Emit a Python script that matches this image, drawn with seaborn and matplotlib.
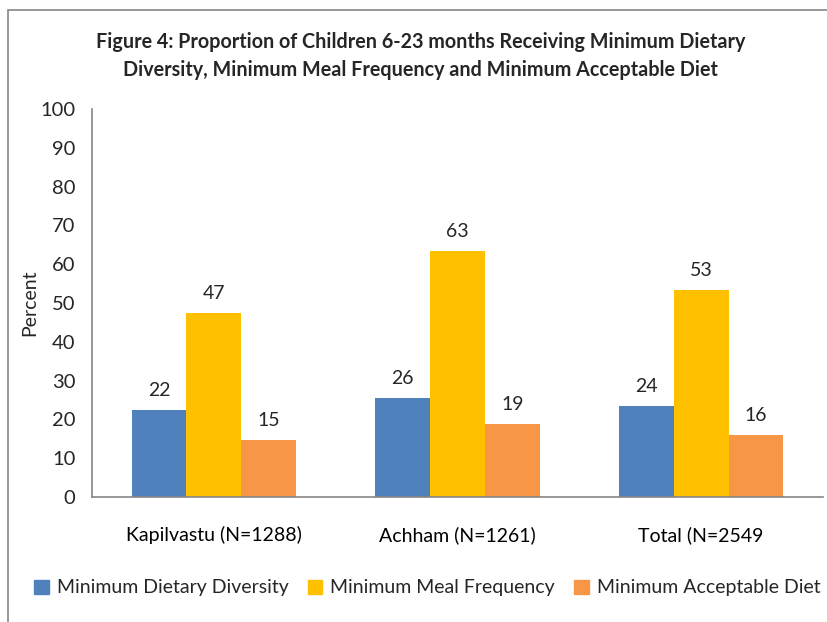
import matplotlib
matplotlib.use("Agg")
import matplotlib.pyplot as plt
import seaborn as sns
import pandas as pd
from matplotlib.patches import Rectangle

categories = ["Kapilvastu (N=1288)", "Achham (N=1261)", "Total (N=2549"]
series = ["Minimum Dietary Diversity", "Minimum Meal Frequency", "Minimum Acceptable Diet"]
mdd = [22.4, 25.5, 23.5]
mmf = [47.5, 63.4, 53.4]
mad = [14.7, 18.8, 16.0]
mdd_labels = ["22", "26", "24"]
mmf_labels = ["47", "63", "53"]
mad_labels = ["15", "19", "16"]
colors = ["#4F81BD", "#FFC000", "#F79646"]
yticks = list(range(0, 101, 10))

rows = []
for s, vals in zip(series, [mdd, mmf, mad]):
    for c, v in zip(categories, vals):
        rows.append({"District": c, "Indicator": s, "Percent": v})
df = pd.DataFrame(rows)

sns.set_theme(style="white")
plt.rcParams["font.family"] = ["Lato", "DejaVu Sans"]

fig = plt.figure(figsize=(8.28, 6.22), dpi=100)
ax = fig.add_axes([92/828, 1-497/622, (823-92)/828, (497-109)/622])

sns.barplot(data=df, x="District", y="Percent", hue="Indicator", order=categories,
            hue_order=series, palette=colors, width=0.675, gap=0, saturation=1,
            edgecolor="none", linewidth=0, ax=ax)

ax.set_xlim(-0.5, 2.5)
ax.set_ylim(0, 100)
ax.set_yticks(yticks)
ax.set_yticklabels([str(t) for t in yticks], fontsize=14.5)
ax.set_xticks(range(len(categories)))
ax.set_xticklabels(categories, fontsize=14)
ax.set_xticks([-0.5, 0.5, 1.5, 2.5], minor=True)
ax.tick_params(axis="x", which="major", length=0, pad=21, colors="black")
ax.tick_params(axis="x", which="minor", length=7, color="#868686", width=1.2, direction="out")
ax.tick_params(axis="y", which="major", length=5, color="#868686", width=1.2, direction="out", pad=7)
ax.set_xlabel("")
ax.set_ylabel("Percent", fontsize=14, labelpad=1.5)
for side in ["top", "right"]:
    ax.spines[side].set_visible(False)
for side in ["left", "bottom"]:
    ax.spines[side].set_color("#868686")
    ax.spines[side].set_linewidth(1.2)

for container, labels in zip(ax.containers, [mdd_labels, mmf_labels, mad_labels]):
    ax.bar_label(container, labels=labels, padding=8, fontsize=14)

ax.legend_.remove()
handles = [Rectangle((0, 0), 1, 1, color=c) for c in colors]
fig.legend(handles, series, loc="center", bbox_to_anchor=(0.516, 1-588/622), ncol=3,
           frameon=False, fontsize=14, handlelength=0.75, handleheight=0.75,
           handletextpad=0.4, columnspacing=1.0)

fig.text(0.508, 1-42/622, "Figure 4: Proportion of Children 6-23 months Receiving Minimum Dietary",
         ha="center", va="center", fontsize=14.2, fontweight="bold")
fig.text(0.508, 1-70/622, "Diversity, Minimum Meal Frequency and Minimum Acceptable Diet",
         ha="center", va="center", fontsize=14.2, fontweight="bold")

border = Rectangle((8/828, -0.1), 1.2, 1-10/622+0.1, transform=fig.transFigure,
                   fill=False, edgecolor="#868686", linewidth=1.2)
fig.patches.append(border)

fig.savefig("out.png", dpi=100)
